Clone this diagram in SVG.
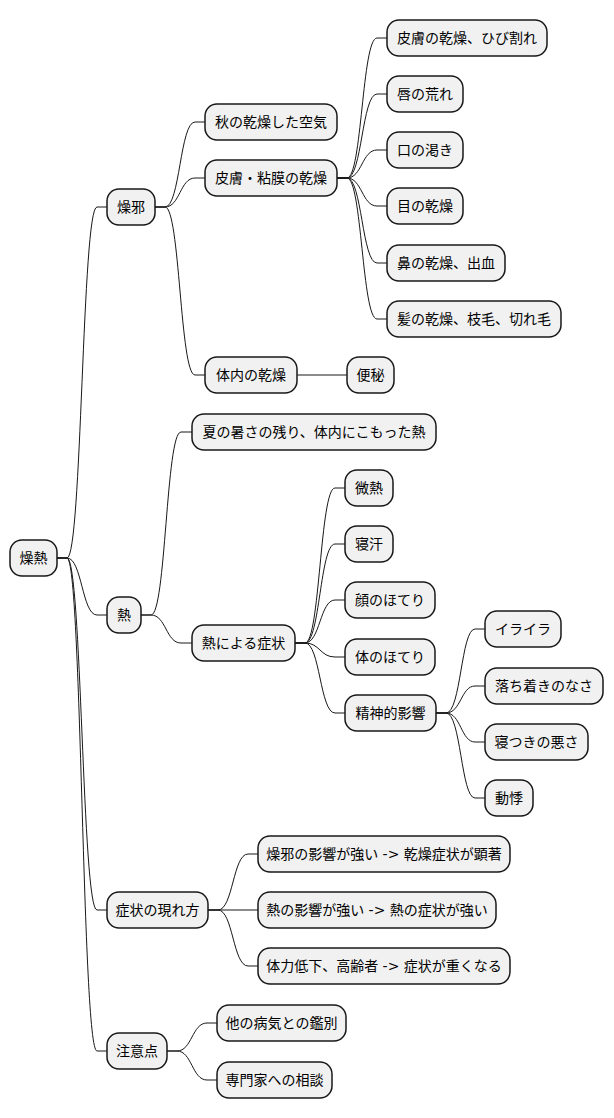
<svg xmlns="http://www.w3.org/2000/svg" width="614" height="1118" viewBox="0 0 614 1118">
<style>
.n rect{fill:#F1F1F1;stroke:#181818;stroke-width:1.5}
.n text{font-family:"DejaVu Sans","Noto Sans CJK JP",sans-serif;font-size:14px;fill:#000;text-anchor:middle}
#edges path{fill:none;stroke:#181818;stroke-width:1}
</style>
<rect width="614" height="1118" fill="#FFFFFF"/>
<g id="edges">
<path d="M57,558 L67,558 C82,558 82,207 97,207 L107,207"/>
<path d="M57,558 L67,558 C82,558 82,615 97,615 L107,615"/>
<path d="M57,558 L67,558 C82,558 82,910 97,910 L107,910"/>
<path d="M57,558 L67,558 C82,558 82,1051 97,1051 L107,1051"/>
<path d="M155,207 L165,207 C180,207 180,122 195,122 L205,122"/>
<path d="M155,207 L165,207 C180,207 180,178 195,178 L205,178"/>
<path d="M155,207 L165,207 C180,207 180,375 195,375 L205,375"/>
<path d="M337,178 L347,178 C362,178 362,38 377,38 L387,38"/>
<path d="M337,178 L347,178 C362,178 362,94 377,94 L387,94"/>
<path d="M337,178 L347,178 C362,178 362,150 377,150 L387,150"/>
<path d="M337,178 L347,178 C362,178 362,206 377,206 L387,206"/>
<path d="M337,178 L347,178 C362,178 362,263 377,263 L387,263"/>
<path d="M337,178 L347,178 C362,178 362,319 377,319 L387,319"/>
<path d="M297,375 L347,375"/>
<path d="M141,615 L151,615 C166,615 166,432 181,432 L192,432"/>
<path d="M141,615 L151,615 C166,615 166,643 181,643 L192,643"/>
<path d="M295,643 L305,643 C320,643 320,488 335,488 L345,488"/>
<path d="M295,643 L305,643 C320,643 320,544 335,544 L345,544"/>
<path d="M295,643 L305,643 C320,643 320,600 335,600 L345,600"/>
<path d="M295,643 L305,643 C320,643 320,657 335,657 L345,657"/>
<path d="M295,643 L305,643 C320,643 320,713 335,713 L345,713"/>
<path d="M436,713 L446,713 C461,713 461,629 475,629 L485,629"/>
<path d="M436,713 L446,713 C461,713 461,686 475,686 L485,686"/>
<path d="M436,713 L446,713 C461,713 461,742 475,742 L485,742"/>
<path d="M436,713 L446,713 C461,713 461,798 475,798 L485,798"/>
<path d="M208,910 L218,910 C233,910 233,854 248,854 L258,854"/>
<path d="M208,910 L258,910"/>
<path d="M208,910 L218,910 C233,910 233,966 248,966 L258,966"/>
<path d="M167,1051 L177,1051 C192,1051 192,1023 207,1023 L217,1023"/>
<path d="M167,1051 L177,1051 C192,1051 192,1080 207,1080 L217,1080"/>
</g>
<g id="n-root" class="n"><rect x="10" y="540" width="47" height="36" rx="12"/><text x="33.5" y="563">燥熱</text></g>
<g id="n-souja" class="n"><rect x="107" y="189" width="48" height="36" rx="12"/><text x="131" y="212">燥邪</text></g>
<g id="n-aki" class="n"><rect x="205" y="104" width="132" height="36" rx="12"/><text x="271" y="127">秋の乾燥した空気</text></g>
<g id="n-hifu" class="n"><rect x="205" y="160" width="132" height="36" rx="12"/><text x="271" y="183">皮膚・粘膜の乾燥</text></g>
<g id="n-hifu1" class="n"><rect x="387" y="20" width="160" height="36" rx="12"/><text x="467" y="43">皮膚の乾燥、ひび割れ</text></g>
<g id="n-kuchibiru" class="n"><rect x="387" y="76" width="76" height="36" rx="12"/><text x="425" y="99">唇の荒れ</text></g>
<g id="n-kuchi" class="n"><rect x="387" y="132" width="76" height="36" rx="12"/><text x="425" y="155">口の渇き</text></g>
<g id="n-me" class="n"><rect x="387" y="188" width="76" height="36" rx="12"/><text x="425" y="211">目の乾燥</text></g>
<g id="n-hana" class="n"><rect x="387" y="245" width="118" height="36" rx="12"/><text x="446" y="268">鼻の乾燥、出血</text></g>
<g id="n-kami" class="n"><rect x="387" y="301" width="174" height="36" rx="12"/><text x="474" y="324">髪の乾燥、枝毛、切れ毛</text></g>
<g id="n-tainai" class="n"><rect x="205" y="357" width="92" height="36" rx="12"/><text x="251" y="380">体内の乾燥</text></g>
<g id="n-benpi" class="n"><rect x="347" y="357" width="47" height="36" rx="12"/><text x="370.5" y="380">便秘</text></g>
<g id="n-netsu" class="n"><rect x="107" y="597" width="34" height="36" rx="12"/><text x="124" y="620">熱</text></g>
<g id="n-natsu" class="n"><rect x="192" y="414" width="244" height="36" rx="12"/><text x="314" y="437">夏の暑さの残り、体内にこもった熱</text></g>
<g id="n-shojo" class="n"><rect x="192" y="625" width="103" height="36" rx="12"/><text x="243.5" y="648">熱による症状</text></g>
<g id="n-binetsu" class="n"><rect x="345" y="470" width="48" height="36" rx="12"/><text x="369" y="493">微熱</text></g>
<g id="n-nease" class="n"><rect x="345" y="526" width="48" height="36" rx="12"/><text x="369" y="549">寝汗</text></g>
<g id="n-kao" class="n"><rect x="345" y="582" width="90" height="36" rx="12"/><text x="390" y="605">顔のほてり</text></g>
<g id="n-karada" class="n"><rect x="345" y="639" width="90" height="36" rx="12"/><text x="390" y="662">体のほてり</text></g>
<g id="n-seishin" class="n"><rect x="345" y="695" width="91" height="36" rx="12"/><text x="390.5" y="718">精神的影響</text></g>
<g id="n-iraira" class="n"><rect x="485" y="611" width="76" height="36" rx="12"/><text x="523" y="634">イライラ</text></g>
<g id="n-ochitsuki" class="n"><rect x="485" y="668" width="118" height="36" rx="12"/><text x="544" y="691">落ち着きのなさ</text></g>
<g id="n-netsuki" class="n"><rect x="485" y="724" width="103" height="36" rx="12"/><text x="536.5" y="747">寝つきの悪さ</text></g>
<g id="n-douki" class="n"><rect x="485" y="780" width="48" height="36" rx="12"/><text x="509" y="803">動悸</text></g>
<g id="n-araware" class="n"><rect x="107" y="892" width="101" height="36" rx="12"/><text x="157.5" y="915">症状の現れ方</text></g>
<g id="n-a1" class="n"><rect x="258" y="836" width="252" height="36" rx="12"/><text x="384" y="859">燥邪の影響が強い -&gt; 乾燥症状が顕著</text></g>
<g id="n-a2" class="n"><rect x="258" y="892" width="238" height="36" rx="12"/><text x="377" y="915">熱の影響が強い -&gt; 熱の症状が強い</text></g>
<g id="n-a3" class="n"><rect x="258" y="948" width="252" height="36" rx="12"/><text x="384" y="971">体力低下、高齢者 -&gt; 症状が重くなる</text></g>
<g id="n-chui" class="n"><rect x="107" y="1033" width="60" height="36" rx="12"/><text x="137" y="1056">注意点</text></g>
<g id="n-kanbetsu" class="n"><rect x="217" y="1005" width="129" height="36" rx="12"/><text x="281.5" y="1028">他の病気との鑑別</text></g>
<g id="n-soudan" class="n"><rect x="217" y="1062" width="115" height="36" rx="12"/><text x="274.5" y="1085">専門家への相談</text></g>
</svg>
